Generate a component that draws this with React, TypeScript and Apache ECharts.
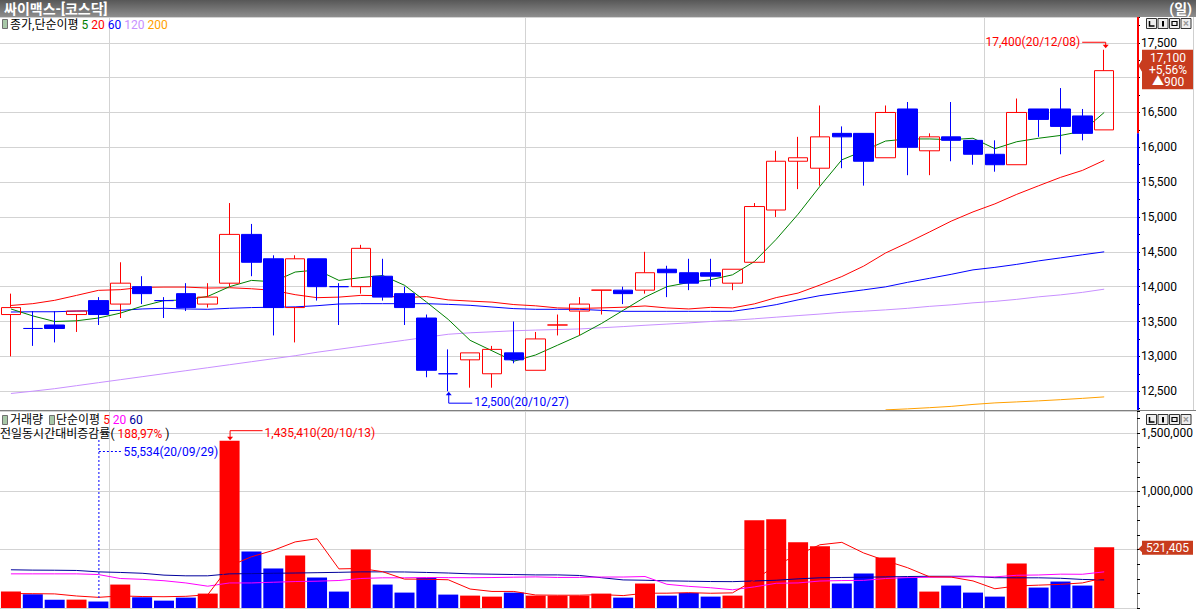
import React, { useEffect, useRef } from 'react';
import * as echarts from 'echarts';

// ---------- data ----------
const dates = [
  '20/09/23', '20/09/24', '20/09/25', '20/09/28', '20/09/29', '20/10/05', '20/10/06', '20/10/07', '20/10/08', '20/10/12',
  '20/10/13', '20/10/14', '20/10/15', '20/10/16', '20/10/19', '20/10/20', '20/10/21', '20/10/22', '20/10/23', '20/10/26',
  '20/10/27', '20/10/28', '20/10/29', '20/10/30', '20/11/02', '20/11/03', '20/11/04', '20/11/05', '20/11/06', '20/11/09',
  '20/11/10', '20/11/11', '20/11/12', '20/11/13', '20/11/16', '20/11/17', '20/11/18', '20/11/19', '20/11/20', '20/11/23',
  '20/11/24', '20/11/25', '20/11/26', '20/11/27', '20/11/30', '20/12/01', '20/12/02', '20/12/03', '20/12/04', '20/12/07',
  '20/12/08',
];

const opens = [
  13600, 13400, 13450, 13600, 13800, 13750, 14000, 13800, 13900, 13750,
  14050, 14750, 14400, 13700, 14400, 14000, 14000, 14150, 13900, 13550,
  12750, 12950, 12750, 13050, 12800, 13450, 13650, 13950, 13950, 13950,
  14250, 14200, 14200, 14050, 14350, 15100, 15800, 15700, 16200, 16200,
  15850, 16550, 15950, 16150, 16100, 15900, 15750, 16550, 16550, 16450, 16250,
];
const closes = [
  13700, 13400, 13400, 13650, 13600, 14050, 13900, 13800, 13700, 13850,
  14750, 14350, 13700, 14400, 14000, 14000, 14550, 13850, 13700, 12800,
  12750, 13050, 13100, 12950, 13250, 13450, 13750, 13950, 13900, 14200,
  14200, 14050, 14150, 14250, 15150, 15800, 15850, 16150, 16150, 15800,
  16500, 16000, 16150, 16100, 15900, 15750, 16500, 16400, 16300, 16200, 17100,
];
const lows = [
  13000, 13150, 13200, 13350, 13450, 13550, 13750, 13550, 13650, 13700,
  14000, 14150, 13300, 13200, 13800, 13450, 13900, 13800, 13450, 12700,
  12500, 12550, 12550, 12900, 12800, 13300, 13300, 13600, 13750, 13900,
  13850, 13950, 14000, 13950, 14350, 15000, 15400, 15450, 15700, 15450,
  15850, 15600, 15600, 15800, 15750, 15650, 15750, 16150, 15900, 16100, 16250,
];
const highs = [
  13900, 13650, 13650, 13650, 13850, 14350, 14150, 13850, 14050, 14050,
  15200, 14900, 14450, 14450, 14400, 14050, 14600, 14400, 14000, 13600,
  13100, 13050, 13150, 13500, 13350, 13600, 13850, 13950, 14000, 14500,
  14300, 14400, 14400, 14250, 15200, 15950, 16150, 16600, 16300, 16200,
  16600, 16650, 16200, 16650, 16100, 16100, 16700, 16550, 16850, 16550, 17400,
];

const ma5 = [
  13680, 13580, 13500, 13510, 13550, 13620, 13720, 13800, 13810, 13860,
  14000, 14090, 14070, 14210, 14240, 14090, 14130, 14160, 14020, 13780,
  13530, 13230, 13080, 12930, 13020, 13160, 13300, 13470, 13660, 13850,
  14000, 14060, 14100, 14170, 14360, 14680, 15040, 15440, 15820, 15950,
  16090, 16120, 16120, 16110, 16130, 15980, 16080, 16130, 16170, 16230, 16500,
];
const ma20 = [
  13730, 13756, 13804, 13875, 13947, 13957, 13990, 13994, 13994, 13980,
  13985, 13970, 13947, 13885, 13842, 13850, 13875, 13870, 13842, 13858,
  13810, 13793, 13778, 13743, 13725, 13695, 13688, 13695, 13705, 13723,
  13695, 13680, 13703, 13695, 13753, 13843, 13908, 14023, 14145, 14295,
  14483, 14630, 14783, 14940, 15073, 15188, 15325, 15448, 15568, 15668, 15813,
];
const ma60 = [
  13636, 13640, 13640, 13650, 13655, 13660, 13680, 13690, 13680, 13675,
  13690, 13700, 13705, 13710, 13727, 13751, 13756, 13756, 13756, 13756,
  13746, 13732, 13708, 13685, 13675, 13675, 13675, 13660, 13646, 13646,
  13646, 13646, 13646, 13646, 13690, 13742, 13811, 13871, 13914, 13954,
  13997, 14062, 14119, 14177, 14241, 14277, 14320, 14370, 14413, 14457, 14500,
];
const ma120 = [
  12467, 12500, 12536, 12579, 12622, 12665, 12708, 12751, 12794, 12837,
  12880, 12923, 12966, 13009, 13059, 13102, 13145, 13188, 13231, 13274,
  13317, 13338, 13352, 13367, 13377, 13385, 13393, 13410, 13427, 13446,
  13463, 13480, 13500, 13517, 13539, 13562, 13585, 13607, 13632, 13648,
  13667, 13689, 13717, 13739, 13768, 13789, 13818, 13854, 13882, 13918, 13964,
];
const ma200 = [
  null, null, null, null, null, null, null, null, null, null,
  null, null, null, null, null, null, null, null, null, null,
  null, null, null, null, null, null, null, null, null, null,
  null, null, null, null, null, null, null, null, null, null,
  12232, 12246, 12263, 12282, 12310, 12332, 12346, 12361, 12378, 12397, 12418,
];

const volumes = [
  140800, 117800, 71800, 71800, 55534, 201100, 92000, 63200, 89100, 123600,
  1435410, 485600, 339100, 451100, 261500, 140800, 502900, 201100, 132200, 258600,
  115000, 106300, 97700, 132200, 106300, 106300, 106300, 123600, 89100, 209800,
  106300, 129300, 97700, 106300, 752900, 761500, 563200, 528700, 209800, 296000,
  433900, 261500, 140800, 192500, 132200, 97700, 382200, 175300, 227000, 192500, 521405,
];
const volMa5 = [
  124000, 123000, 121000, 103000, 91547, 103607, 98447, 96727, 100187, 113800,
  360662, 439382, 494562, 566962, 594542, 335620, 339080, 311480, 247700, 247120,
  241960, 162640, 141960, 141960, 111500, 109760, 109760, 114940, 106320, 127020,
  127020, 131620, 126440, 129880, 238500, 369540, 456320, 542520, 563220, 471840,
  406320, 345980, 268400, 264940, 232180, 164940, 189080, 195980, 202880, 214940, 259000,
];
const volMa20 = [
  293000, 293000, 293000, 293000, 287000, 253000, 246000, 234000, 215000, 187000,
  215000, 215000, 221000, 227000, 230000, 236000, 253000, 259000, 259000, 261752,
  260462, 259887, 261182, 264202, 266741, 262001, 262716, 265736, 265736, 270046,
  203590, 185775, 173705, 156465, 181035, 212070, 215085, 231465, 235345, 237215,
  253160, 260920, 263075, 266090, 267385, 266955, 280750, 283335, 290230, 289365, 310120,
];
const volMa60 = [
  328000, 325000, 324000, 322000, 310000, 305000, 298000, 282000, 276000, 276000,
  293000, 295000, 298000, 300000, 303000, 306000, 310000, 310000, 309000, 305000,
  300000, 293000, 290000, 287000, 284000, 284000, 279000, 260000, 241000, 238000,
  233000, 230000, 227000, 226000, 232000, 238000, 250000, 259000, 262000, 264000,
  267000, 270000, 272000, 272000, 272000, 260000, 259000, 259000, 255000, 245000, 241000,
];

const stockTitle = '싸이맥스-[코스닥]';
const periodLabel = '(일)';
const volRatioLabel = '188,97%';
const highMark = { idx: 50, value: 17400 };
const lowMark = { idx: 20, value: 12500 };
const volHighMark = { idx: 10, value: 1435410 };
const volLowMark = { idx: 4, value: 55534 };

// ---------- layout ----------
const W = 1196;
const PLOT_W = 1137;
const P_TOP = 17, P_BOT = 410, V_TOP = 411, V_BOT = 608;
const PRICE_MIN = 12230, PRICE_MAX = 17870, VOL_MAX = 1690000;

const FONT = 'Roboto, "Noto Sans CJK KR", sans-serif';
const RED = '#ff0000', BLUE = '#0000ff', TAG = '#c83c1e';

const fmt = (v: number) => String(Math.round(v)).replace(/\B(?=(\d{3})+(?!\d))/g, ',');

const cats = [...dates, ''];
const monthStarts = dates
  .map((d, i) => (i > 0 && d.slice(3, 5) !== dates[i - 1].slice(3, 5) ? i : -1))
  .filter((i) => i >= 0);
const dir = closes.map((c, i) =>
  c > opens[i] ? 1 : c < opens[i] ? -1 : i > 0 && c > closes[i - 1] ? 1 : -1
);
const lastClose = closes[closes.length - 1];
const prevClose = closes[closes.length - 2];
const lastVol = volumes[volumes.length - 1];

const upStyle = {
  color: 'rgba(0,0,0,0)', color0: 'rgba(0,0,0,0)',
  borderColor: RED, borderColor0: RED, borderColorDoji: RED, borderWidth: 1,
};
const downStyle = {
  color: BLUE, color0: BLUE,
  borderColor: BLUE, borderColor0: BLUE, borderColorDoji: BLUE, borderWidth: 1,
};

function lineSeries(data: (number | null)[], color: string, g: number, z: number) {
  return {
    type: 'line', xAxisIndex: g, yAxisIndex: g, data, symbol: 'none', showSymbol: false,
    lineStyle: { color, width: 1 }, itemStyle: { color }, z, silent: true,
    emphasis: { disabled: true }, connectNulls: false,
  };
}

function buildOption() {
  const xAxis = [0, 1].map((g) => ({
    type: 'category', gridIndex: g, data: cats, boundaryGap: true,
    axisLine: { show: false }, axisTick: { show: false }, axisLabel: { show: false },
    splitLine: {
      show: true,
      interval: (i: number) => monthStarts.includes(i),
      lineStyle: { color: '#d3d3d3', width: 1 },
    },
  }));
  const labelBase = { show: true, margin: 4, color: '#000', fontSize: 12, fontFamily: FONT, showMinLabel: false, showMaxLabel: false };
  return {
    animation: false,
    backgroundColor: '#ffffff',
    textStyle: { fontFamily: FONT },
    grid: [
      { left: 0, top: P_TOP, width: PLOT_W, height: P_BOT - P_TOP, outerBoundsMode: 'none', containLabel: false },
      { left: 0, top: V_TOP, width: PLOT_W, height: V_BOT - V_TOP, outerBoundsMode: 'none', containLabel: false },
    ],
    xAxis,
    yAxis: [
      {
        type: 'value', gridIndex: 0, position: 'right', min: PRICE_MIN, max: PRICE_MAX,
        splitNumber: 11, minInterval: 500, maxInterval: 500,
        axisLine: { show: false },
        axisTick: { show: true, length: 3, lineStyle: { color: '#000' } },
        minorTick: { show: true, splitNumber: 2, length: 3, lineStyle: { color: '#000' } },
        // the label under the current-price tag is covered in the reference
        axisLabel: { ...labelBase, formatter: (v: number) => (Math.abs(v - lastClose) < 300 ? '' : fmt(v)) },
        splitLine: { show: true, lineStyle: { color: '#d3d3d3', width: 1 } },
      },
      {
        type: 'value', gridIndex: 1, position: 'right', min: 0, max: VOL_MAX, interval: 500000,
        axisLine: { show: true, lineStyle: { color: '#808080', width: 1 } },
        axisTick: { show: true, length: 3, lineStyle: { color: '#000' } },
        minorTick: { show: true, splitNumber: 4, length: 3, lineStyle: { color: '#000' } },
        axisLabel: { ...labelBase, formatter: (v: number) => (Math.abs(v - lastVol) < 80000 ? '' : fmt(v)) },
        splitLine: { show: true, lineStyle: { color: '#d3d3d3', width: 1 } },
      },
    ],
    series: [
      lineSeries(ma200, '#ffa000', 0, 2),
      lineSeries(ma120, '#c890ff', 0, 2),
      lineSeries(ma60, BLUE, 0, 2),
      lineSeries(ma20, RED, 0, 2),
      lineSeries(ma5, '#008000', 0, 2),
      {
        type: 'candlestick', xAxisIndex: 0, yAxisIndex: 0, barWidth: 20, z: 3, silent: true,
        data: opens.map((o, i) => ({
          value: [o, closes[i], lows[i], highs[i]],
          itemStyle: dir[i] > 0 ? upStyle : downStyle,
        })),
      },
      {
        type: 'bar', xAxisIndex: 1, yAxisIndex: 1, barWidth: 20, z: 2, silent: true,
        data: volumes.map((v, i) => ({ value: v, itemStyle: { color: dir[i] > 0 ? RED : BLUE } })),
      },
      lineSeries(volMa60, '#00009c', 1, 3),
      lineSeries(volMa20, '#ff00ff', 1, 3),
      lineSeries(volMa5, RED, 1, 3),
    ],
  };
}

function buttons(y0: number) {
  const xs = [1146, 1157.5, 1169, 1180.5];
  const out: any[] = [];
  xs.forEach((x) => {
    out.push({ type: 'rect', shape: { x: x + 0.5, y: y0 + 0.5, width: 10, height: 10 }, style: { fill: '#eeeeee', stroke: '#333333', lineWidth: 1 }, z: 70, silent: true });
  });
  out.push({ type: 'polyline', shape: { points: [[1149.5, y0 + 3], [1149.5, y0 + 8], [1154.5, y0 + 8]] }, style: { stroke: '#000', lineWidth: 1.5, fill: null }, z: 71, silent: true });
  out.push({ type: 'rect', shape: { x: 1162, y: y0 + 3, width: 2, height: 5.5 }, style: { fill: '#000' }, z: 71, silent: true });
  out.push({ type: 'rect', shape: { x: 1172, y: y0 + 3.5, width: 5, height: 4 }, style: { fill: 'none', stroke: '#000', lineWidth: 1.2 }, z: 71, silent: true });
  out.push({ type: 'text', x: 1186, y: y0 + 5.5, style: { text: '×', fill: '#999999', font: `bold 11px ${FONT}`, lineHeight: 10, align: 'center', verticalAlign: 'middle' }, z: 71, silent: true });
  return out;
}

function icon(x: number, y: number) {
  return { type: 'rect', shape: { x: x + 0.5, y: y + 0.5, width: 5, height: 9 }, style: { fill: '#a8c8a8', stroke: '#707070', lineWidth: 1 }, z: 70, silent: true };
}

function rich(colors: Record<string, string>) {
  const out: Record<string, any> = {};
  Object.keys(colors).forEach((k) => {
    out[k] = { fill: colors[k], font: `12px ${FONT}`, lineHeight: 12 };
  });
  return out;
}

function buildGraphics(px: (g: number, i: number, v: number) => number[]) {
  const els: any[] = [];
  const z = 60;
  // title bar
  els.push({
    type: 'rect', shape: { x: 0, y: 0, width: W, height: P_TOP }, z, silent: true,
    style: { fill: new echarts.graphic.LinearGradient(0, 0, 0, 1, [{ offset: 0, color: '#575757' }, { offset: 1, color: '#8e8e8e' }]) },
  });
  els.push({ type: 'text', x: 4, y: 9, z: z + 1, silent: true, style: { text: stockTitle, fill: '#fff', font: `bold 14px ${FONT}`, lineHeight: 14, align: 'left', verticalAlign: 'middle' } });
  els.push({ type: 'text', x: 1192, y: 9, z: z + 1, silent: true, style: { text: periodLabel, fill: '#fff', font: `bold 14px ${FONT}`, lineHeight: 14, align: 'right', verticalAlign: 'middle' } });

  // panel separator & right edge line
  els.push({ type: 'line', shape: { x1: 0, y1: 410.5, x2: W, y2: 410.5 }, style: { stroke: '#808080', lineWidth: 1 }, z, silent: true });
  els.push({ type: 'line', shape: { x1: 1193.5, y1: P_TOP, x2: 1193.5, y2: P_BOT }, style: { stroke: '#cfcfcf', lineWidth: 1 }, z, silent: true });

  // price axis line, red above previous close, blue below
  const yPrev = px(0, closes.length - 2, prevClose)[1];
  els.push({ type: 'line', shape: { x1: 1138, y1: P_TOP, x2: 1138, y2: yPrev }, style: { stroke: RED, lineWidth: 2 }, z, silent: true });
  els.push({ type: 'line', shape: { x1: 1138, y1: yPrev, x2: 1138, y2: P_BOT }, style: { stroke: BLUE, lineWidth: 2 }, z, silent: true });

  // legends
  els.push(icon(2, 19));
  els.push({
    type: 'text', x: 10, y: 25, z: z + 1, silent: true,
    style: {
      text: '{k|종가,단순이평} {g|5} {r|20} {b|60} {v|120} {o|200}',
      font: `12px ${FONT}`, lineHeight: 12, align: 'left', verticalAlign: 'middle',
      rich: rich({ k: '#000', g: '#008000', r: RED, b: BLUE, v: '#c890ff', o: '#ffa000' }),
    },
  });
  els.push(icon(2, 415));
  els.push({ type: 'text', x: 10, y: 419.5, z: z + 1, silent: true, style: { text: '거래량', fill: '#000', font: `12px ${FONT}`, lineHeight: 12, align: 'left', verticalAlign: 'middle' } });
  els.push(icon(49, 415));
  els.push({
    type: 'text', x: 56, y: 419.5, z: z + 1, silent: true,
    style: {
      text: '{k|단순이평} {r|5} {m|20} {n|60}',
      font: `12px ${FONT}`, lineHeight: 12, align: 'left', verticalAlign: 'middle',
      rich: rich({ k: '#000', r: RED, m: '#ff00ff', n: '#00009c' }),
    },
  });
  els.push({
    type: 'text', x: 0, y: 434, z: z + 1, silent: true,
    style: {
      text: `{k|전일동시간대비증감률(} {r|${volRatioLabel}} {k|)}`,
      font: `12px ${FONT}`, lineHeight: 12, align: 'left', verticalAlign: 'middle',
      rich: rich({ k: '#000', r: RED }),
    },
  });

  // buttons
  els.push(...buttons(18));
  els.push(...buttons(414));

  const small = (text: string, x: number, y: number, fill: string, align: string) => ({
    type: 'text', x, y, z: z + 1, silent: true,
    style: { text, fill, font: `12px ${FONT}`, lineHeight: 12, align, verticalAlign: 'middle' },
  });

  // price high annotation
  const [hx, hy] = px(0, highMark.idx, highMark.value);
  const hLineY = hy - 7.5;
  els.push(small(`${fmt(highMark.value)}(${dates[highMark.idx]})`, hx - 24, hLineY, RED, 'right'));
  els.push({ type: 'polyline', shape: { points: [[hx - 22, hLineY], [hx + 1.5, hLineY], [hx + 1.5, hy - 3]] }, style: { stroke: RED, lineWidth: 1, fill: null }, z, silent: true });
  els.push({ type: 'polygon', shape: { points: [[hx - 1.5, hy - 5], [hx + 4.5, hy - 5], [hx + 1.5, hy - 1.5]] }, style: { fill: RED }, z, silent: true });

  // price low annotation
  const [lx, ly] = px(0, lowMark.idx, lowMark.value);
  els.push({ type: 'polyline', shape: { points: [[lx + 0.5, ly + 2], [lx + 0.5, ly + 12], [lx + 24, ly + 12]] }, style: { stroke: BLUE, lineWidth: 1, fill: null }, z, silent: true });
  els.push({ type: 'polygon', shape: { points: [[lx + 0.5, ly + 0.5], [lx - 2.5, ly + 4], [lx + 3.5, ly + 4]] }, style: { fill: BLUE }, z, silent: true });
  els.push(small(`${fmt(lowMark.value)}(${dates[lowMark.idx]})`, lx + 26, ly + 11, BLUE, 'left'));

  // volume high annotation
  const [vx, vy] = px(1, volHighMark.idx, volHighMark.value);
  els.push({ type: 'polyline', shape: { points: [[vx + 33, vy - 10], [vx + 0.5, vy - 10], [vx + 0.5, vy - 3]] }, style: { stroke: RED, lineWidth: 1, fill: null }, z, silent: true });
  els.push({ type: 'polygon', shape: { points: [[vx - 2.5, vy - 4], [vx + 3.5, vy - 4], [vx + 0.5, vy - 0.5]] }, style: { fill: RED }, z, silent: true });
  els.push(small(`${fmt(volHighMark.value)}(${dates[volHighMark.idx]})`, vx + 35, vy - 7.5, RED, 'left'));

  // volume low annotation
  const [wx, wy] = px(1, volLowMark.idx, volLowMark.value);
  const wLineY = V_TOP + 40.5;
  els.push({ type: 'line', shape: { x1: wx + 0.5, y1: V_TOP + 29, x2: wx + 0.5, y2: wy - 3 }, style: { stroke: BLUE, lineWidth: 1, lineDash: [2, 2] }, z, silent: true });
  els.push({ type: 'line', shape: { x1: wx + 0.5, y1: wLineY, x2: wx + 23, y2: wLineY }, style: { stroke: BLUE, lineWidth: 1, lineDash: [2, 2] }, z, silent: true });
  els.push(small(`${fmt(volLowMark.value)}(${dates[volLowMark.idx]})`, wx + 25, wLineY, BLUE, 'left'));

  // current price tag
  const yLast = px(0, closes.length - 1, lastClose)[1];
  const change = lastClose - prevClose;
  const pct = ((change / prevClose) * 100).toFixed(2).replace('.', ',');
  const tTop = yLast - 21, tBot = yLast + 18.5, tip = yLast - 5;
  els.push({
    type: 'polygon', z: z + 5, silent: true,
    shape: { points: [[1142, tTop], [1193, tTop], [1193, tBot], [1142, tBot], [1142, tip + 6], [1138.5, tip], [1142, tip - 6]] },
    style: { fill: TAG },
  });
  els.push({
    type: 'text', x: 1168, y: yLast - 0.5, z: z + 6, silent: true,
    style: {
      text: [fmt(lastClose), `+${pct}%`, `▲${fmt(change)}`].join('\n'),
      fill: '#fff', font: `12px ${FONT}`, lineHeight: 12, align: 'center', verticalAlign: 'middle',
    },
  });

  // current volume tag
  const yV = px(1, volumes.length - 1, lastVol)[1];
  els.push({
    type: 'polygon', z: z + 5, silent: true,
    shape: { points: [[1142, yV - 6.5], [1193, yV - 6.5], [1193, yV + 7.5], [1142, yV + 7.5], [1142, yV + 5], [1138.5, yV + 1.5], [1142, yV - 2]] },
    style: { fill: TAG },
  });
  els.push({
    type: 'text', x: 1167.5, y: yV + 0.5, z: z + 6, silent: true,
    style: { text: fmt(lastVol), fill: '#fff', font: `12px ${FONT}`, lineHeight: 12, align: 'center', verticalAlign: 'middle' },
  });

  return els;
}

export default function App() {
  const ref = useRef<HTMLDivElement>(null);
  useEffect(() => {
    const el = ref.current;
    if (!el) return;
    const chart = echarts.init(el, undefined, { renderer: 'svg' });
    chart.setOption(buildOption() as any);
    const px = (g: number, i: number, v: number) =>
      chart.convertToPixel({ gridIndex: g } as any, [i, v]) as unknown as number[];
    chart.setOption({ graphic: { elements: buildGraphics(px) } } as any);
    return () => chart.dispose();
  }, []);
  return (
    <div
      ref={ref}
      style={{ position: 'fixed', left: 0, top: 0, width: 1196, height: 609, background: '#fff' }}
    />
  );
}
